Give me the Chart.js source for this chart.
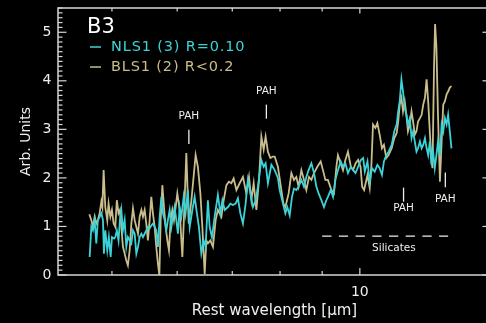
<!DOCTYPE html>
<html>
<head>
<meta charset="utf-8">
<script src="https://cdn.jsdelivr.net/npm/chart.js@4.4.1/dist/chart.umd.min.js"></script>
<style>
  html, body { margin: 0; padding: 0; background: #000; overflow: hidden; }
  canvas { display: block; }
</style>
</head>
<body>
<canvas id="spec" width="492" height="323"></canvas>
<script>
// B3 composite spectra: NLS1 vs BLS1, rest wavelength in micron
const nlsWave = [
  4.698,4.720,4.741,4.764,4.786,4.807,4.831,4.854,4.876,4.889,
  4.908,4.935,4.957,4.982,5.000,5.028,5.047,5.069,5.093,5.113,
  5.133,5.156,5.181,5.205,5.228,5.254,5.279,5.303,5.328,5.353,
  5.378,5.403,5.429,5.453,5.479,5.504,5.529,5.556,5.582,5.607,
  5.634,5.660,5.686,5.714,5.741,5.767,5.794,5.821,5.847,5.876,
  5.904,5.930,5.958,5.986,6.013,6.042,6.071,6.110,6.143,6.182,
  6.214,6.261,6.301,6.341,6.376,6.420,6.462,6.497,6.539,6.571,
  6.613,6.663,6.724,6.771,6.809,6.853,6.915,6.963,7.013,7.066,
  7.111,7.160,7.212,7.266,7.312,7.363,7.417,7.473,7.520,7.593,
  7.642,7.684,7.733,7.809,7.881,7.953,7.992,8.066,8.120,8.164,
  8.219,8.272,8.318,8.373,8.426,8.492,8.554,8.611,8.665,8.733,
  8.797,8.855,8.911,8.981,9.046,9.106,9.146,9.218,9.277,9.339,
  9.406,9.479,9.540,9.604,9.673,9.751,9.814,9.880,9.952,10.028,
  10.093,10.140,10.216,10.28,10.346,10.424,10.502,10.57,10.638,10.697,
  10.768,10.836,10.932,11.011,11.084,11.132,11.18,11.233,11.283,11.337,
  11.390,11.440,11.50,11.555,11.606,11.661,11.716,11.767,11.83,11.886,
  11.939,11.996,12.052,12.105,12.16,12.218,12.272,12.33,12.388,12.442,
  12.51,12.57,12.626,12.685,12.745,12.80,12.86,12.92
];
const nlsFlux = [
  0.37,0.99,0.92,1.13,0.65,1.13,1.20,1.27,1.13,0.44,
  0.92,0.51,0.78,0.37,0.78,0.75,0.78,0.92,0.71,1.13,
  1.34,0.92,1.13,0.58,0.78,0.71,0.65,0.92,0.85,0.44,
  0.58,0.78,0.85,0.78,0.85,0.92,0.99,0.96,1.02,1.06,
  0.99,0.92,0.58,1.20,1.61,1.27,1.13,0.92,1.13,1.34,
  0.99,1.20,1.40,1.13,0.85,1.40,1.20,1.61,1.27,1.75,
  0.99,1.34,1.61,1.27,0.99,0.44,0.71,0.58,1.54,0.99,
  0.78,1.20,1.65,1.27,1.54,1.34,1.40,1.47,1.44,1.47,
  1.58,1.27,1.06,1.47,1.96,1.68,1.40,1.54,1.82,2.37,
  2.23,2.30,1.89,2.27,2.16,2.00,1.75,1.47,1.27,1.40,
  1.23,1.61,1.78,1.75,1.82,1.96,1.82,2.02,2.16,2.30,
  2.10,1.82,1.68,1.54,1.40,1.54,1.61,1.75,1.61,1.96,
  2.16,2.34,2.23,2.30,2.10,2.23,2.16,2.10,2.23,2.37,
  2.41,2.13,2.34,1.92,2.20,2.13,2.27,2.20,2.06,2.34,
  2.47,2.54,2.68,2.96,3.10,3.37,3.58,4.03,3.78,3.44,
  3.30,3.10,3.23,2.82,2.96,2.75,2.54,2.61,2.75,2.61,
  2.68,2.82,2.61,2.47,2.75,2.27,2.54,2.20,2.47,2.75,
  2.47,3.10,2.96,3.23,3.10,3.30,2.96,2.61
];

const blsWave = [
  4.694,4.720,4.741,4.764,4.786,4.807,4.831,4.854,4.868,4.885,
  4.908,4.935,4.953,4.978,5.000,5.024,5.047,5.069,5.093,5.113,
  5.133,5.156,5.181,5.205,5.228,5.254,5.279,5.303,5.328,5.353,
  5.378,5.403,5.429,5.453,5.479,5.504,5.529,5.556,5.582,5.607,
  5.634,5.660,5.686,5.709,5.730,5.757,5.783,5.810,5.838,5.864,
  5.892,5.920,5.947,5.975,6.003,6.042,6.088,6.127,6.156,6.197,
  6.244,6.272,6.318,6.358,6.403,6.438,6.480,6.510,6.539,6.584,
  6.632,6.682,6.724,6.790,6.834,6.886,6.935,6.982,7.027,7.081,
  7.146,7.212,7.280,7.335,7.384,7.432,7.488,7.543,7.593,7.642,
  7.684,7.733,7.787,7.844,7.881,7.953,8.030,8.075,8.120,8.195,
  8.258,8.318,8.373,8.426,8.492,8.554,8.611,8.675,8.733,8.797,
  8.880,8.963,9.020,9.081,9.146,9.236,9.303,9.365,9.406,9.479,
  9.540,9.604,9.673,9.751,9.814,9.880,9.952,10.02,10.065,10.12,
  10.216,10.28,10.329,10.375,10.444,10.502,10.57,10.638,10.697,10.768,
  10.836,10.932,11.011,11.084,11.132,11.18,11.233,11.283,11.337,11.390,
  11.440,11.50,11.555,11.606,11.661,11.716,11.767,11.83,11.886,11.939,
  11.996,12.052,12.105,12.16,12.218,12.252,12.307,12.342,12.388,12.442,
  12.51,12.57,12.626,12.685,12.745,12.80,12.86,12.92
];
const blsFlux = [
  1.25,1.13,0.99,1.20,1.06,1.13,1.27,1.51,1.40,2.16,
  1.40,1.13,1.47,1.20,1.34,1.06,0.99,1.54,1.27,1.34,
  0.99,0.58,0.44,0.30,0.20,0.51,1.06,1.37,1.13,0.99,
  0.85,1.20,1.34,1.20,1.34,1.06,0.71,1.13,1.61,1.27,
  0.99,0.58,0.23,0.00,1.13,1.85,1.40,0.99,0.71,0.51,
  1.13,1.34,1.13,1.40,1.68,1.34,0.37,1.54,2.51,1.06,
  1.54,1.89,2.47,2.23,1.68,0.99,0.02,0.71,0.65,0.71,
  0.58,1.13,1.34,1.20,1.54,1.85,1.92,1.89,1.99,1.75,
  1.89,2.02,1.68,2.02,1.54,1.89,1.34,1.96,2.85,2.58,
  2.85,2.54,2.41,2.44,2.44,2.23,1.75,1.47,1.40,1.68,
  2.10,1.96,2.02,1.82,2.16,1.96,1.75,2.02,1.96,2.10,
  2.23,2.34,2.16,1.96,1.96,1.75,1.68,2.23,2.47,2.30,
  2.16,2.37,2.54,2.23,2.16,2.30,2.37,2.23,1.82,1.75,
  2.06,1.79,2.27,3.10,3.03,3.13,2.89,2.61,2.68,2.41,
  2.47,2.61,2.82,2.92,3.16,3.51,3.65,3.37,3.58,3.30,
  2.96,3.10,3.37,3.16,2.89,2.96,3.16,3.23,3.30,3.51,
  3.65,4.03,3.58,2.96,2.34,2.20,4.34,5.17,4.68,3.30,
  1.92,2.75,3.51,3.58,3.72,3.78,3.86,3.89
];

const seriesNames = ['NLS1 (3) R=0.10', 'BLS1 (2) R<0.2'];
const yTickValues = [0, 1, 2, 3, 4, 5];
const xTickValues = [10];
const xMinorTicks = [5, 6, 7, 8, 9];

// feature markers
const pahWave = [6.2, 7.7, 11.3, 12.7];
const pahLabelAt = [3.28, 3.78, 1.38, 1.57];
const pahMarkLo = [2.70, 3.22, 1.51, 1.81];
const pahMarkHi = [2.99, 3.51, 1.80, 2.11];
const silicateFrom = 9.0, silicateTo = 12.8, silicateLevel = 0.80;
const silicateLabelAt = [11.0, 0.56];

const cyan = '#3cd3d8';
const khaki = '#c9bd8b';
const axisColor = '#d6d6d6';
const textColor = '#eeeeee';
const fontFamily = "'DejaVu Sans', sans-serif";

function toPoints(xs, ys) {
  return xs.map((x, i) => ({ x: x, y: ys[i] }));
}

function seg(ctx, x1, y1, x2, y2) {
  ctx.beginPath();
  ctx.moveTo(x1, y1);
  ctx.lineTo(x2, y2);
  ctx.stroke();
}

// box, inward ticks on all four sides
const framePlugin = {
  id: 'frame',
  afterDraw(chart) {
    const { ctx, chartArea: a, scales: { x, y } } = chart;
    ctx.save();
    ctx.strokeStyle = axisColor;
    ctx.lineWidth = 1.5;
    ctx.strokeRect(a.left, a.top, a.right - a.left, a.bottom - a.top);
    ctx.lineWidth = 1.2;
    for (let i = 0; i <= 55; i++) {
      const py = y.getPixelForValue(i / 10);
      const len = i % 10 === 0 ? 8.5 : 4.5;
      seg(ctx, a.left, py, a.left + len, py);
      seg(ctx, a.right, py, a.right - len, py);
    }
    xMinorTicks.forEach(v => {
      const px = x.getPixelForValue(v);
      seg(ctx, px, a.bottom, px, a.bottom - 4);
      seg(ctx, px, a.top, px, a.top + 3.5);
    });
    xTickValues.forEach(v => {
      const px = x.getPixelForValue(v);
      seg(ctx, px, a.bottom, px, a.bottom - 7);
      seg(ctx, px, a.top, px, a.top + 5.5);
    });
    ctx.restore();
  }
};

// PAH and silicate markers
const featurePlugin = {
  id: 'features',
  afterDatasetsDraw(chart) {
    const { ctx, scales: { x, y } } = chart;
    ctx.save();
    ctx.strokeStyle = textColor;
    ctx.fillStyle = textColor;
    ctx.lineWidth = 1.3;
    ctx.font = '10.5px ' + fontFamily;
    ctx.textAlign = 'center';
    ctx.textBaseline = 'middle';
    pahWave.forEach((w, i) => {
      const px = x.getPixelForValue(w);
      seg(ctx, px, y.getPixelForValue(pahMarkLo[i]), px, y.getPixelForValue(pahMarkHi[i]));
      ctx.fillText('PAH', px, y.getPixelForValue(pahLabelAt[i]));
    });
    ctx.setLineDash([9.3, 7.4]);
    const sy = y.getPixelForValue(silicateLevel);
    seg(ctx, x.getPixelForValue(silicateFrom), sy, x.getPixelForValue(silicateTo), sy);
    ctx.setLineDash([]);
    ctx.fillText('Silicates', x.getPixelForValue(silicateLabelAt[0]), y.getPixelForValue(silicateLabelAt[1]));
    ctx.restore();
  }
};

// panel name and line legend inside the plot
const legendPlugin = {
  id: 'innerLegend',
  afterDraw(chart) {
    const { ctx } = chart;
    ctx.save();
    ctx.fillStyle = '#ffffff';
    ctx.font = '21px ' + fontFamily;
    ctx.textBaseline = 'alphabetic';
    ctx.fillText('B3', 87, 32.5);
    ctx.font = '14.5px ' + fontFamily;
    ctx.textBaseline = 'middle';
    ctx.letterSpacing = '0.85px';
    chart.data.datasets.forEach((ds, i) => {
      const ty = 47 + i * 20;
      ctx.strokeStyle = ds.borderColor;
      ctx.lineWidth = 1.5;
      seg(ctx, 90, ty, 101, ty);
      ctx.fillStyle = ds.borderColor;
      ctx.fillText(ds.label, 111, ty);
    });
    ctx.restore();
  }
};

new Chart(document.getElementById('spec'), {
  type: 'line',
  data: {
    datasets: [
      { label: seriesNames[0], data: toPoints(nlsWave, nlsFlux), borderColor: cyan, borderWidth: 1.8 },
      { label: seriesNames[1], data: toPoints(blsWave, blsFlux), borderColor: khaki, borderWidth: 1.8 }
    ]
  },
  options: {
    responsive: false,
    animation: false,
    devicePixelRatio: 1,
    parsing: false,
    elements: { point: { radius: 0 }, line: { tension: 0 } },
    layout: { padding: { top: 8, right: 1, left: 0, bottom: 0 } },
    plugins: { legend: { display: false }, tooltip: { enabled: false } },
    scales: {
      x: {
        type: 'logarithmic',
        min: 4.3,
        max: 14.43,
        afterBuildTicks: s => { s.ticks = xTickValues.map(v => ({ value: v })); },
        afterFit: s => { s.height = 48; s.paddingLeft = 0; s.paddingRight = 0; },
        ticks: {
          color: textColor, font: { family: fontFamily, size: 14 }, padding: 9,
          maxRotation: 0, autoSkip: false, callback: v => String(v)
        },
        grid: { display: false, drawTicks: false },
        border: { display: false },
        title: {
          display: true, text: 'Rest wavelength [μm]', color: textColor,
          font: { family: fontFamily, size: 15 }, padding: { top: 0, bottom: 3 }
        }
      },
      y: {
        type: 'linear',
        min: 0,
        max: 5.5,
        afterBuildTicks: s => { s.ticks = yTickValues.map(v => ({ value: v })); },
        afterFit: s => { s.width = 58; s.paddingTop = 0; s.paddingBottom = 0; },
        ticks: { color: textColor, font: { family: fontFamily, size: 14 }, padding: 6.5 },
        grid: { display: false, drawTicks: false },
        border: { display: false },
        title: {
          display: true, text: 'Arb. Units', color: textColor,
          font: { family: fontFamily, size: 14 }, padding: { top: 17.6, bottom: 0 }
        }
      }
    }
  },
  plugins: [framePlugin, featurePlugin, legendPlugin]
});
</script>
</body>
</html>
